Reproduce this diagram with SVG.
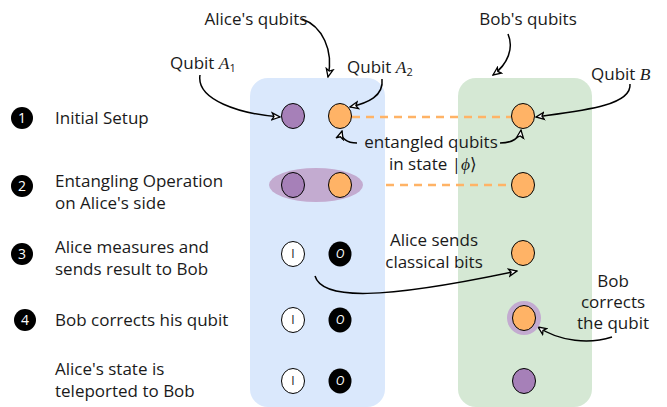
<svg xmlns="http://www.w3.org/2000/svg" width="667" height="407" viewBox="0 0 667 407">
<defs>
<style>
text{font-family:"Open Sans",Lato,"Noto Sans",sans-serif;font-size:17px;fill:#1a1a1a}
.m{font-family:"Liberation Serif","DejaVu Serif",serif;font-style:italic;font-size:17.5px}
.c{text-anchor:middle}
.pur{fill:#a680b8;stroke:#000;stroke-width:1}
.ora{fill:#ffb366;stroke:#000;stroke-width:1}
.dash{stroke:#ffb366;stroke-width:2.5;stroke-dasharray:8 6;fill:none}
.arr{fill:none;stroke:#000;stroke-width:1.5;marker-end:url(#ah)}
.num{fill:#000}
.numt{fill:#fff;font-size:14px;text-anchor:middle}
.bit{font-size:12px;text-anchor:middle}
</style>
<marker id="ah" viewBox="0 0 10 10" refX="9" refY="5" markerWidth="10" markerHeight="10" orient="auto" markerUnits="userSpaceOnUse">
<path d="M1,1.5 L9,5 L1,8.5 L3,5 Z" fill="#fff" stroke="#000" stroke-width="1.3"/>
</marker>
</defs>

<g id="panels">
<rect id="alice-panel" x="250" y="78" width="135" height="329" rx="18" fill="#dae8fc"/>
<rect id="bob-panel" x="458" y="78" width="134" height="329" rx="18" fill="#d5e8d4"/>
</g>

<g id="steps">
<g id="step1"><circle class="num" cx="22" cy="118" r="11"/><text class="numt" x="22" y="123">1</text><text x="55" y="124">Initial Setup</text></g>
<g id="step2"><circle class="num" cx="22" cy="186" r="11"/><text class="numt" x="22" y="191">2</text><text x="55" y="187">Entangling Operation</text><text x="55" y="209">on Alice's side</text></g>
<g id="step3"><circle class="num" cx="22" cy="254" r="11"/><text class="numt" x="22" y="259">3</text><text x="55" y="253">Alice measures and</text><text x="55" y="275">sends result to Bob</text></g>
<g id="step4"><circle class="num" cx="25" cy="320" r="11"/><text class="numt" x="25" y="325">4</text><text x="55" y="326">Bob corrects his qubit</text></g>
<g id="step5"><text x="55" y="375">Alice's state is</text><text x="55" y="397">teleported to Bob</text></g>
</g>

<g id="connectors">
<line class="dash" x1="352" y1="117" x2="511" y2="117"/>
<line class="dash" x1="386" y1="185" x2="511" y2="185"/>
<path class="arr" d="M302,19 C322,26 334,50 328,77"/>
<path class="arr" d="M508,34 C514,48 508,64 493,75"/>
<path class="arr" d="M200,75 C196,100 240,114 280,117"/>
<path class="arr" d="M382,79 C384,96 368,103 350,107"/>
<path class="arr" d="M630,84 C632,106 580,111 536,117"/>
<path class="arr" d="M357,143 C347,143 340,138 342,131"/>
<path class="arr" d="M500,143 C512,143 520,138 521,130"/>
<path class="arr" d="M315,276 C322,300 380,300 517,271"/>
<path class="arr" d="M612,337 C590,344 560,342 538,327"/>
</g>

<g id="labels">
<text class="c" x="256" y="25">Alice's qubits</text>
<text class="c" x="528" y="25">Bob's qubits</text>
<text x="170" y="69">Qubit <tspan class="m">A</tspan><tspan font-size="11" dy="3">1</tspan></text>
<text x="347" y="73">Qubit <tspan class="m">A</tspan><tspan font-size="11" dy="3">2</tspan></text>
<text x="591" y="80">Qubit <tspan class="m">B</tspan></text>
<text class="c" x="431" y="148">entangled qubits</text>
<text class="c" x="433" y="170">in state |<tspan class="m">ϕ</tspan>⟩</text>
<text class="c" x="434" y="246">Alice sends</text>
<text class="c" x="434" y="268">classical bits</text>
<text class="c" x="613" y="287">Bob</text>
<text class="c" x="613" y="308">corrects</text>
<text class="c" x="613" y="329">the qubit</text>
</g>

<g id="row1">
<ellipse class="pur" cx="293" cy="116" rx="11.5" ry="12.5"/>
<ellipse class="ora" cx="340" cy="116" rx="11.5" ry="12.5"/>
<ellipse class="ora" cx="523" cy="116" rx="11.5" ry="12.5"/>
</g>
<g id="row2">
<ellipse cx="316" cy="185" rx="47" ry="17" fill="#c3abd0"/>
<ellipse class="pur" cx="293" cy="185" rx="11.5" ry="12.5"/>
<ellipse class="ora" cx="340" cy="185" rx="11.5" ry="12.5"/>
<ellipse class="ora" cx="523" cy="185" rx="11.5" ry="12.5"/>
</g>
<g id="row3">
<ellipse cx="293" cy="254" rx="11.5" ry="12.5" fill="#fff" stroke="#000"/><text class="bit" x="293" y="258">I</text>
<ellipse cx="340" cy="254" rx="11.5" ry="12.5" fill="#000"/><text class="bit" x="340" y="258" font-style="italic" style="fill:#fff">O</text>
<ellipse class="ora" cx="523" cy="253" rx="11.5" ry="12.5"/>
</g>
<g id="row4">
<ellipse cx="293" cy="320" rx="11.5" ry="12.5" fill="#fff" stroke="#000"/><text class="bit" x="293" y="324">I</text>
<ellipse cx="340" cy="320" rx="11.5" ry="12.5" fill="#000"/><text class="bit" x="340" y="324" font-style="italic" style="fill:#fff">O</text>
<ellipse cx="524" cy="318" rx="17" ry="17" fill="#c3abd0"/>
<ellipse class="ora" cx="524" cy="318" rx="11.5" ry="12.5"/>
</g>
<g id="row5">
<ellipse cx="293" cy="381" rx="11.5" ry="12.5" fill="#fff" stroke="#000"/><text class="bit" x="293" y="385">I</text>
<ellipse cx="340" cy="381" rx="11.5" ry="12.5" fill="#000"/><text class="bit" x="340" y="385" font-style="italic" style="fill:#fff">O</text>
<ellipse class="pur" cx="524" cy="381" rx="11.5" ry="12.5"/>
</g>
</svg>
